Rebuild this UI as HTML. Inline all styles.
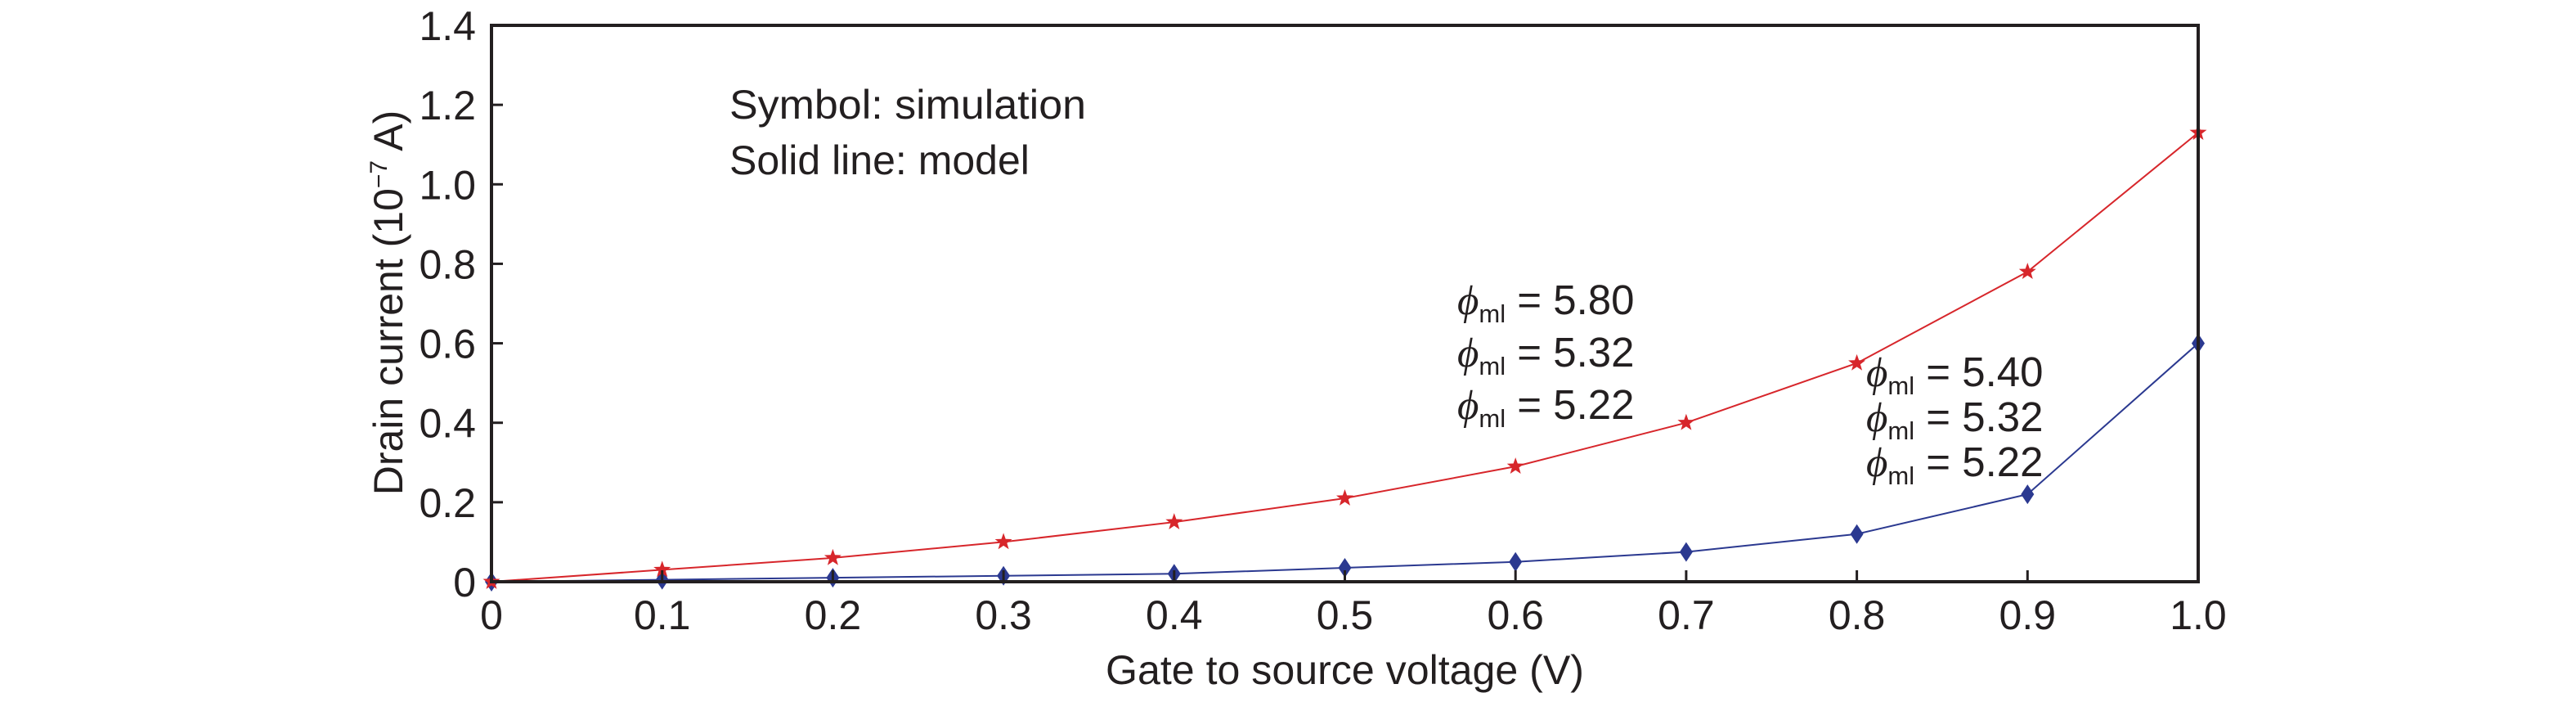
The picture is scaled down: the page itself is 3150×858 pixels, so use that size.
<!DOCTYPE html>
<html><head><meta charset="utf-8"><style>
html,body{margin:0;padding:0;background:#fff}
svg{display:block}
text{font-family:"Liberation Sans",sans-serif;fill:#231f20}
</style></head><body>
<svg id="chart" width="3150" height="858" viewBox="0 0 3150 858" xmlns="http://www.w3.org/2000/svg">
<g id="plot"></g>
</svg>
<script>
const xValues=[0,0.1,0.2,0.3,0.4,0.5,0.6,0.7,0.8,0.9,1.0];
const redValues=[0,0.03,0.06,0.10,0.15,0.21,0.29,0.40,0.55,0.78,1.13];
const blueValues=[0,0.005,0.01,0.015,0.02,0.035,0.05,0.075,0.12,0.22,0.60];
const xTicks=[0,0.1,0.2,0.3,0.4,0.5,0.6,0.7,0.8,0.9,1.0];
const xTickLabels=["0","0.1","0.2","0.3","0.4","0.5","0.6","0.7","0.8","0.9","1.0"];
const yTicks=[0,0.2,0.4,0.6,0.8,1.0,1.2,1.4];
const yTickLabels=["0","0.2","0.4","0.6","0.8","1.0","1.2","1.4"];

const L=601,R=2688,T=31,B=711;
const sx=v=>L+(v-0)/(1-0)*(R-L);
const sy=v=>B-(v-0)/(1.4-0)*(B-T);
const NS="http://www.w3.org/2000/svg";
const g=document.getElementById('plot');
function mk(tag,attrs,parent){const e=document.createElementNS(NS,tag);for(const k in attrs)e.setAttribute(k,attrs[k]);(parent||g).appendChild(e);return e;}

function series(vals,color,name){
  const pts=xValues.map((x,i)=>sx(x)+","+sy(vals[i])).join(" ");
  const pl=mk('polyline',{points:pts,fill:'none',stroke:color,'stroke-width':2});
  
  
}
series(redValues,'#d7262b','red-series');
series(blueValues,'#2b3990','blue-series');

xValues.forEach((x,i)=>{
  const cx=sx(x),cy=sy(blueValues[i]);
  const d=mk('polygon',{points:`${cx},${cy-12} ${cx+8},${cy} ${cx},${cy+12} ${cx-8},${cy}`,fill:'#2b3990'});
  
  
});
xValues.forEach((x,i)=>{
  const cx=sx(x),cy=sy(redValues[i]);
  let p=[];for(let k=0;k<10;k++){const r=k%2?4.5:11;const a=-Math.PI/2+k*Math.PI/5;p.push((cx+r*Math.cos(a)).toFixed(1)+","+(cy+r*Math.sin(a)).toFixed(1));}
  const s=mk('polygon',{points:p.join(" "),fill:'#d7262b'});
  
  
});

const box=mk('rect',{x:L,y:T,width:R-L,height:B-T,fill:'none',stroke:'#231f20','stroke-width':4});



xTicks.forEach((v,i)=>{
  const x=sx(v);
  const t=mk('line',{x1:x,y1:B,x2:x,y2:B-14,stroke:'#231f20','stroke-width':3});
  
  
  const lb=mk('text',{x:x,y:B+58,'text-anchor':'middle','font-size':50});
  lb.textContent=xTickLabels[i];
  
  
});
yTicks.forEach((v,i)=>{
  const y=sy(v);
  const t=mk('line',{x1:L,y1:y,x2:L+14,y2:y,stroke:'#231f20','stroke-width':3});
  
  
  const lb=mk('text',{x:L-19,y:y+18,'text-anchor':'end','font-size':50});
  lb.textContent=yTickLabels[i];
  
  
});
</script>
<svg style="position:absolute;left:0;top:0" width="3150" height="858" xmlns="http://www.w3.org/2000/svg">
<text x="1352" y="836" font-size="50" textLength="585" lengthAdjust="spacingAndGlyphs">Gate to source voltage (V)</text>
<text transform="translate(492,370) rotate(-90)" text-anchor="middle" font-size="50">Drain current (10<tspan font-size="30" dy="-19">−7</tspan><tspan dy="19"> A)</tspan></text>
<text x="892" y="145" font-size="50" textLength="436" lengthAdjust="spacingAndGlyphs">Symbol: simulation</text>
<text x="892" y="213" font-size="50">Solid line: model</text>
<g font-size="51">
<text x="1782" y="384"><tspan font-family="Liberation Serif" font-style="italic">ϕ</tspan><tspan font-size="31" dy="10">ml</tspan><tspan dy="-10"> = 5.80</tspan></text>
<text x="1782" y="448"><tspan font-family="Liberation Serif" font-style="italic">ϕ</tspan><tspan font-size="31" dy="10">ml</tspan><tspan dy="-10"> = 5.32</tspan></text>
<text x="1782" y="512"><tspan font-family="Liberation Serif" font-style="italic">ϕ</tspan><tspan font-size="31" dy="10">ml</tspan><tspan dy="-10"> = 5.22</tspan></text>
</g>
<g font-size="51">
<text x="2282" y="472"><tspan font-family="Liberation Serif" font-style="italic">ϕ</tspan><tspan font-size="31" dy="10">ml</tspan><tspan dy="-10"> = 5.40</tspan></text>
<text x="2282" y="527"><tspan font-family="Liberation Serif" font-style="italic">ϕ</tspan><tspan font-size="31" dy="10">ml</tspan><tspan dy="-10"> = 5.32</tspan></text>
<text x="2282" y="582"><tspan font-family="Liberation Serif" font-style="italic">ϕ</tspan><tspan font-size="31" dy="10">ml</tspan><tspan dy="-10"> = 5.22</tspan></text>
</g>
</svg>
</body></html>
